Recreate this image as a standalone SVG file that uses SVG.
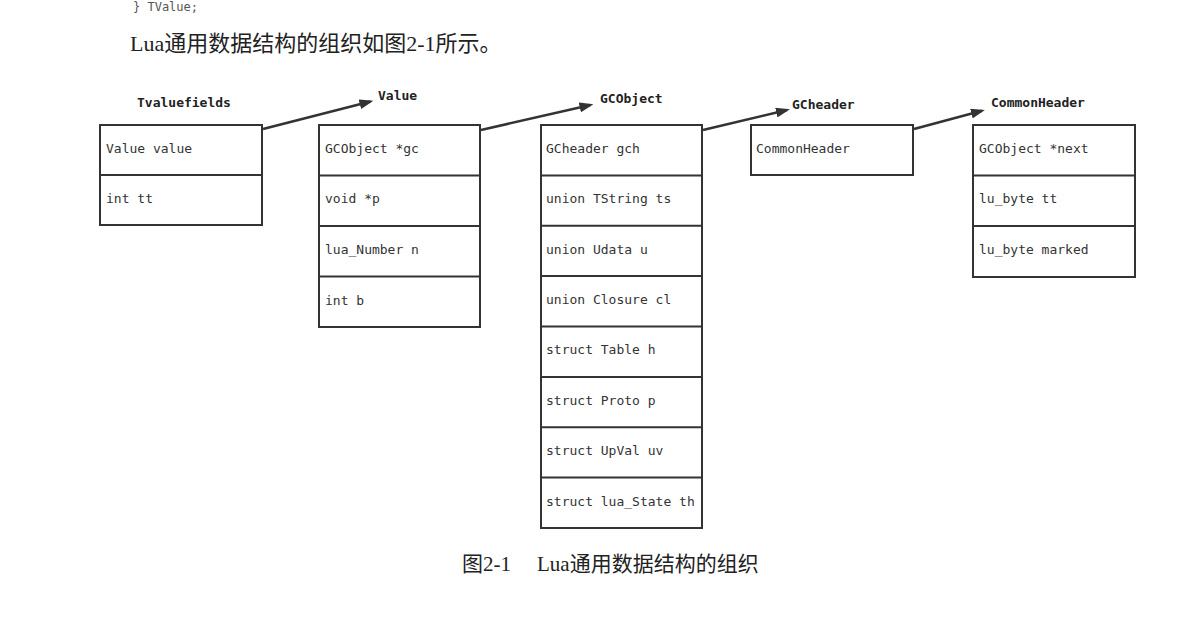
<svg xmlns="http://www.w3.org/2000/svg" width="1184" height="619" viewBox="0 0 1184 619">
<style>
.box{fill:#fff;stroke:#333;stroke-width:2}
.sep{stroke:#333;stroke-width:2}
.cell{font-family:"DejaVu Sans Mono","Liberation Mono",monospace;font-size:13px;fill:#333}
.lbl{font-family:"DejaVu Sans Mono","Liberation Mono",monospace;font-size:13px;font-weight:bold;fill:#222}
.prose{font-family:"Liberation Serif","Noto Sans CJK SC",serif;fill:#222}
.conn{stroke:#333;stroke-width:2.5;fill:none;marker-end:url(#arr)}
</style>
<defs>
<marker id="arr" markerUnits="userSpaceOnUse" markerWidth="14" markerHeight="10" refX="11" refY="5" orient="auto">
<path d="M0,0 L14,5 L0,10 z" fill="#333"/>
</marker>
</defs>
<rect width="1184" height="619" fill="#fff"/>
<text x="133" y="11" style="font-family:'DejaVu Sans Mono','Liberation Mono',monospace;font-size:12px;fill:#555">} TValue;</text>
<text class="prose" x="130" y="51" font-size="22">Lua通用数据结构的组织如图2-1所示。</text>

<g id="tvaluefields">
<text class="lbl" x="137" y="107">Tvaluefields</text>
<rect class="box" x="100" y="125" width="162" height="100"/>
<line class="sep" x1="100" y1="175" x2="262" y2="175"/>
<text class="cell" x="106" y="153">Value value</text>
<text class="cell" x="106" y="203">int tt</text>
</g>

<g id="value">
<text class="lbl" x="378" y="100">Value</text>
<rect class="box" x="319" y="125" width="161" height="202"/>
<line class="sep" x1="319" y1="175.5" x2="480" y2="175.5"/>
<line class="sep" x1="319" y1="226" x2="480" y2="226"/>
<line class="sep" x1="319" y1="276.5" x2="480" y2="276.5"/>
<text class="cell" x="325" y="153">GCObject *gc</text>
<text class="cell" x="325" y="203">void *p</text>
<text class="cell" x="325" y="254">lua_Number n</text>
<text class="cell" x="325" y="305">int b</text>
</g>

<g id="gcobject">
<text class="lbl" x="600" y="103">GCObject</text>
<rect class="box" x="541" y="125" width="161" height="403"/>
<line class="sep" x1="541" y1="175.4" x2="702" y2="175.4"/>
<line class="sep" x1="541" y1="225.8" x2="702" y2="225.8"/>
<line class="sep" x1="541" y1="276.1" x2="702" y2="276.1"/>
<line class="sep" x1="541" y1="326.5" x2="702" y2="326.5"/>
<line class="sep" x1="541" y1="376.9" x2="702" y2="376.9"/>
<line class="sep" x1="541" y1="427.3" x2="702" y2="427.3"/>
<line class="sep" x1="541" y1="477.6" x2="702" y2="477.6"/>
<text class="cell" x="546" y="153">GCheader gch</text>
<text class="cell" x="546" y="203">union TString ts</text>
<text class="cell" x="546" y="254">union Udata u</text>
<text class="cell" x="546" y="304">union Closure cl</text>
<text class="cell" x="546" y="354">struct Table h</text>
<text class="cell" x="546" y="405">struct Proto p</text>
<text class="cell" x="546" y="455">struct UpVal uv</text>
<text class="cell" x="546" y="506">struct lua_State th</text>
</g>

<g id="gcheader">
<text class="lbl" x="792" y="109">GCheader</text>
<rect class="box" x="751" y="125" width="162" height="50"/>
<text class="cell" x="756" y="153">CommonHeader</text>
</g>

<g id="commonheader">
<text class="lbl" x="991" y="107">CommonHeader</text>
<rect class="box" x="973" y="125" width="162" height="152"/>
<line class="sep" x1="973" y1="175.5" x2="1135" y2="175.5"/>
<line class="sep" x1="973" y1="226" x2="1135" y2="226"/>
<text class="cell" x="979" y="153">GCObject *next</text>
<text class="cell" x="979" y="203">lu_byte tt</text>
<text class="cell" x="979" y="254">lu_byte marked</text>
</g>

<g id="connectors">
<line class="conn" x1="263" y1="129" x2="370.5" y2="101.5"/>
<line class="conn" x1="481" y1="130" x2="590.5" y2="105"/>
<line class="conn" x1="703" y1="130" x2="787" y2="110"/>
<line class="conn" x1="914" y1="129" x2="982" y2="110.7"/>
</g>

<text class="prose" x="462" y="571" font-size="21" fill="#333">图2-1</text>
<text class="prose" x="537" y="571" font-size="21" fill="#333">Lua通用数据结构的组织</text>
</svg>
